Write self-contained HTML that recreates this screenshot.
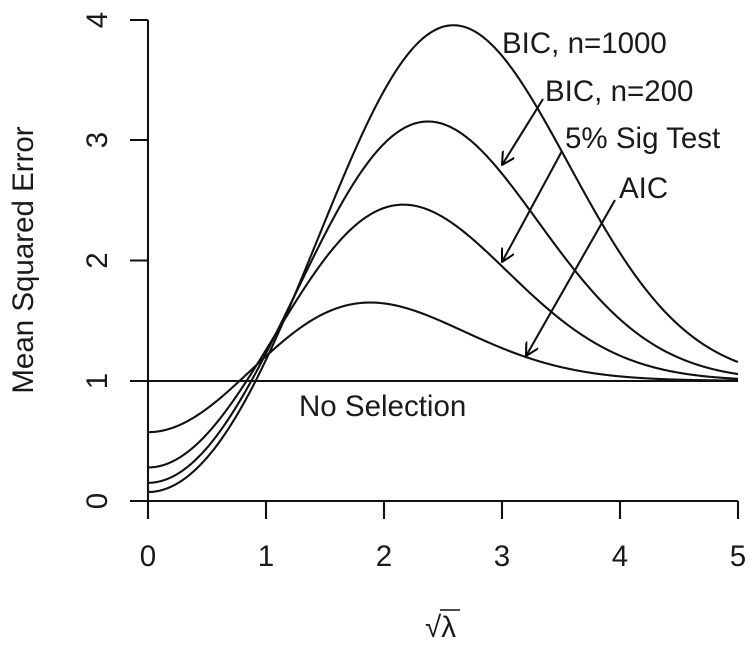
<!DOCTYPE html>
<html><head><meta charset="utf-8"><style>body{margin:0;background:#fff}svg{display:block}</style></head>
<body>
<svg id="s" width="754" height="650" xmlns="http://www.w3.org/2000/svg" font-family="Liberation Sans, sans-serif" font-size="29.5" fill="#1a1a1a">
<defs><marker id="a" viewBox="0 0 14 14" refX="13" refY="7" markerWidth="14" markerHeight="14" markerUnits="userSpaceOnUse" orient="auto"><path d="M0,0 L13,7 L0,14" fill="none" stroke="#000" stroke-width="2"/></marker></defs>
<g stroke="#111" stroke-width="2.1" fill="none">
<line x1="148" y1="501" x2="738" y2="501"/>
<line x1="148" y1="501" x2="148" y2="519"/><line x1="266" y1="501" x2="266" y2="519"/><line x1="384" y1="501" x2="384" y2="519"/><line x1="502" y1="501" x2="502" y2="519"/><line x1="620" y1="501" x2="620" y2="519"/><line x1="738" y1="501" x2="738" y2="519"/>
<line x1="148" y1="501" x2="148" y2="20"/>
<line x1="130" y1="501" x2="148" y2="501"/><line x1="130" y1="381" x2="148" y2="381"/><line x1="130" y1="260.5" x2="148" y2="260.5"/><line x1="130" y1="140" x2="148" y2="140"/><line x1="130" y1="20" x2="148" y2="20"/>
<line x1="148" y1="381" x2="738" y2="381"/>
<g id="c"></g>
<line x1="543" y1="99" x2="502" y2="165" marker-end="url(#a)"/>
<line x1="562" y1="151" x2="502" y2="262" marker-end="url(#a)"/>
<line x1="615" y1="200" x2="526" y2="356" marker-end="url(#a)"/>
</g>
<g text-anchor="middle">
<text x="148" y="566">0</text><text x="266" y="566">1</text><text x="384" y="566">2</text><text x="502" y="566">3</text><text x="620" y="566">4</text><text x="738" y="566">5</text>
<text transform="translate(107,501) rotate(-90)">0</text>
<text transform="translate(107,381) rotate(-90)">1</text>
<text transform="translate(107,260.5) rotate(-90)">2</text>
<text transform="translate(107,140) rotate(-90)">3</text>
<text transform="translate(107,20) rotate(-90)">4</text>
<text transform="translate(33,260) rotate(-90)">Mean Squared Error</text>
</g>
<text x="502" y="53">BIC, n=1000</text>
<text x="545" y="101">BIC, n=200</text>
<text x="565" y="148">5% Sig Test</text>
<text x="619" y="198">AIC</text>
<text x="299" y="416">No Selection</text>
<text x="425" y="637">√λ</text>
<line x1="440" y1="610" x2="460" y2="610" stroke="#111" stroke-width="1.5"/>
</svg>
<script>
function erf(x){var s=x<0?-1:1;x=Math.abs(x);var t=1/(1+0.3275911*x);var y=1-(((((1.061405429*t-1.453152027)*t)+1.421413741)*t-0.284496736)*t+0.254829592)*t*Math.exp(-x*x);return s*y;}
function P(x){return 0.5*(1+erf(x/Math.SQRT2));}
function p(x){return Math.exp(-x*x/2)/Math.sqrt(2*Math.PI);}
function R(t,c){return 1+(t*t-1)*(P(c-t)-P(-c-t))+(c-t)*p(c-t)+(c+t)*p(c+t);}
var cs=[Math.SQRT2,1.96,Math.sqrt(Math.log(200)),Math.sqrt(Math.log(1000))],g=document.getElementById('c'),h='';
cs.forEach(function(c){var d='';for(var i=0;i<=500;i++){var t=i/100;d+=(i?'L':'M')+(148+118*t).toFixed(2)+','+(501-120.25*R(t,c)).toFixed(2);}h+='<path d="'+d+'"/>';});
g.innerHTML=h;
</script>
</body></html>
